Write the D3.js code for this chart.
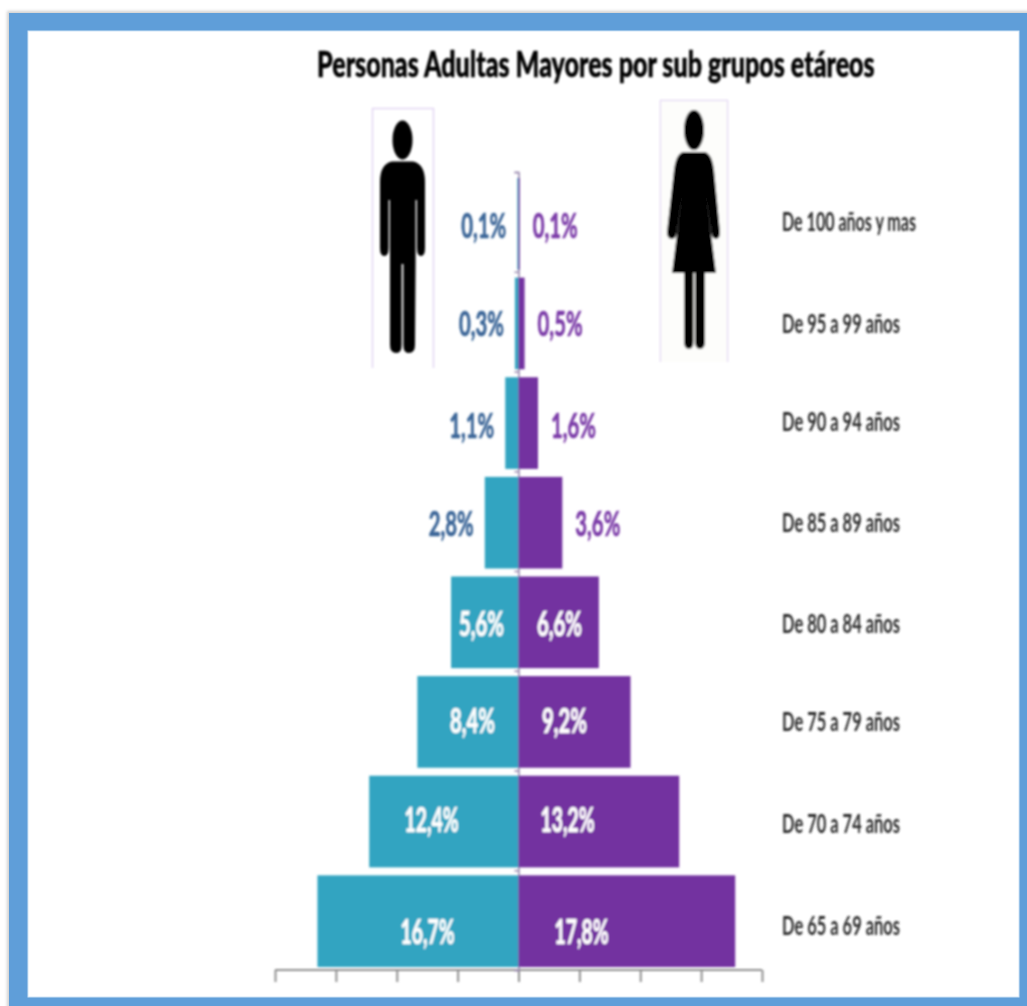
<!DOCTYPE html>
<html><head><meta charset="utf-8">
<script src="https://cdnjs.cloudflare.com/ajax/libs/d3/7.8.5/d3.min.js"></script>
<style>html,body{margin:0;padding:0;background:#fff}svg{display:block}</style>
</head><body><svg id="c" width="1027" height="1006"></svg>
<script>
const categories=["De 100 años y mas","De 95 a 99 años","De 90 a 94 años","De 85 a 89 años","De 80 a 84 años","De 75 a 79 años","De 70 a 74 años","De 65 a 69 años"];
const male=[0.1,0.3,1.1,2.8,5.6,8.4,12.4,16.7];
const female=[0.1,0.5,1.6,3.6,6.6,9.2,13.2,17.8];
const axisTicks=[-20,-15,-10,-5,0,5,10,15,20];
const title="Personas Adultas Mayores por sub grupos etáreos";

const svg=d3.select("#c");
const defs=svg.append("defs");
defs.append("filter").attr("id","soft").attr("filterUnits","userSpaceOnUse").attr("x",0).attr("y",0).attr("width",1027).attr("height",1006)
  .append("feGaussianBlur").attr("stdDeviation",0.9);
defs.append("filter").attr("id","shadow").attr("x","-3%").attr("y","-3%").attr("width","106%").attr("height","106%")
  .append("feGaussianBlur").attr("stdDeviation",1.5);

// frame
svg.append("rect").attr("x",7).attr("y",11).attr("width",1030).attr("height",1000).attr("fill","#999").attr("opacity",.45).attr("filter","url(#shadow)");
svg.append("rect").attr("x",9).attr("y",13).attr("width",1018).attr("height",993).attr("fill","#5f9ed9");
svg.append("rect").attr("x",28).attr("y",31).attr("width",991).attr("height",966).attr("fill","#fff").attr("stroke","#cfe3f6").attr("stroke-width",1);

const g=svg.append("g").attr("filter","url(#soft)");

const x=d3.scaleLinear().domain([-20,20]).range([275,762]);
const xMale=d3.scaleLinear().domain([0,20]).range([518.5,277.7]);
const y=d3.scaleBand().domain(categories).range([175,970]).paddingInner(0.08).paddingOuter(0.03);
const bw=y.bandwidth();

// title
const t=g.append("text").text(title)
 .attr("font-family","Lato").attr("font-weight",900).attr("font-size",36).attr("fill","#000")
 .attr("stroke","#000").attr("stroke-width",0.5);
t.attr("transform",`translate(317,77) scale(${558/t.node().getComputedTextLength()},1)`);

// icon boxes
const icons=g.append("g").attr("fill","none").attr("stroke","#e2d5f3").attr("stroke-width",1.5);
icons.append("path").attr("d","M372.5,368V108.5H433.5V368");
g.append("rect").attr("x",661).attr("y",101).attr("width",66).attr("height",261).attr("fill","#fdfdfb");
icons.append("path").attr("d","M660.5,362V100.5H727.5V362");

// man
const man=g.append("g").attr("fill","#050505");
man.append("ellipse").attr("cx",402.5).attr("cy",140).attr("rx",10).attr("ry",19.5);
man.append("path").attr("d","M392,161.5H413Q425,164 425,182V248Q425,256 421,256Q417,256 417,248V200H415.6V262L415,345Q415,353 408.5,353Q403.4,353 403.4,345V264H401.6V345Q401.6,353 396.5,353Q390,353 390,345V200H388.6V248Q388.6,256 384.3,256Q380,256 380,248V182Q380,164 392,161.5Z");

// woman
const woman=g.append("g").attr("fill","#050505");
woman.append("ellipse").attr("cx",694).attr("cy",130).attr("rx",10).attr("ry",20);
woman.append("path").attr("d","M683,152H705Q712,154 714,170L720,232Q720,239 716,239Q712,239 711,232L705,186L716,273H672L683,186L677,232Q676,239 672,239Q667,239 667,232L674,170Q676,154 683,152Z");
woman.append("path").attr("d","M684,270H693.5V341Q693.5,349 689,349Q684,349 684,341ZM695,270H705V341Q705,349 700,349Q695,349 695,341Z");

// axes, under the bars
const axB=g.append("g").attr("transform","translate(0,970)")
 .call(d3.axisBottom(x).tickValues(axisTicks).tickSize(12).tickFormat(""));
axB.selectAll("path,line").attr("stroke","#8f8f8f").attr("stroke-width",2);
axB.select("path").attr("d","M275,0H762");
const axL=g.append("g").attr("transform",`translate(${x(0)},0)`)
 .call(d3.axisLeft(d3.scaleLinear().domain([0,8]).range([172,970])).ticks(8).tickSize(4).tickFormat(""));
axL.selectAll("path,line").attr("stroke","#9a8ab0").attr("stroke-width",1.6);

// bars
g.selectAll("rect.m").data(categories).join("rect").attr("class","m")
 .attr("x",(d,i)=>xMale(male[i])).attr("y",d=>y(d)).attr("width",(d,i)=>xMale(0)-xMale(male[i])).attr("height",bw).attr("fill","#30a4c1");
g.selectAll("rect.f").data(categories).join("rect").attr("class","f")
 .attr("x",x(0)).attr("y",d=>y(d)).attr("width",(d,i)=>x(female[i])-x(0)).attr("height",bw).attr("fill","#7332a0");

// category labels
const catNudge=[7,10,8,9,11,9,11,14];
g.selectAll("text.cat").data(categories).join("text").attr("class","cat")
 .attr("x",782).attr("y",(d,i)=>y(d)+bw/2+catNudge[i])
 .text(d=>d).attr("font-family","Lato").attr("font-size",27).attr("fill","#2b2b2b").attr("font-weight",700)
 .attr("textLength",d=>d.length>15?134:118).attr("lengthAdjust","spacingAndGlyphs");

// value labels: outside while the bar is short, inside after that
const fmt=v=>String(v.toFixed(1)).replace(".",",")+"%";
const mInside=[0,0,0,0,37,46,87,91], fInside=[0,0,0,0,41,46,49,63];
const yNudge=[14,13,15,13,14,11,10,23];
const vStyle=s=>s.attr("font-family","Lato").attr("font-weight",700).attr("font-size",35).attr("stroke-width",0.7).attr("text-anchor","middle").attr("lengthAdjust","spacingAndGlyphs");
g.selectAll("text.vm").data(categories).join("text").attr("class","vm").call(vStyle)
 .attr("x",(d,i)=>mInside[i]?x(0)-mInside[i]:xMale(male[i])-33.5)
 .attr("y",(d,i)=>y(d)+bw/2+yNudge[i])
 .attr("fill",(d,i)=>mInside[i]?"#fff":"#3a6597")
 .attr("stroke",(d,i)=>mInside[i]?"#fff":"#3a6597")
 .attr("textLength",(d,i)=>fmt(male[i]).length>4?54:45)
 .text((d,i)=>fmt(male[i]));
g.selectAll("text.vf").data(categories).join("text").attr("class","vf").call(vStyle)
 .attr("x",(d,i)=>fInside[i]?x(0)+fInside[i]:x(female[i])+35.5)
 .attr("y",(d,i)=>y(d)+bw/2+yNudge[i])
 .attr("fill",(d,i)=>fInside[i]?"#fff":"#7a3aa7")
 .attr("stroke",(d,i)=>fInside[i]?"#fff":"#7a3aa7")
 .attr("textLength",(d,i)=>fmt(female[i]).length>4?54:45)
 .text((d,i)=>fmt(female[i]));
</script></body></html>
